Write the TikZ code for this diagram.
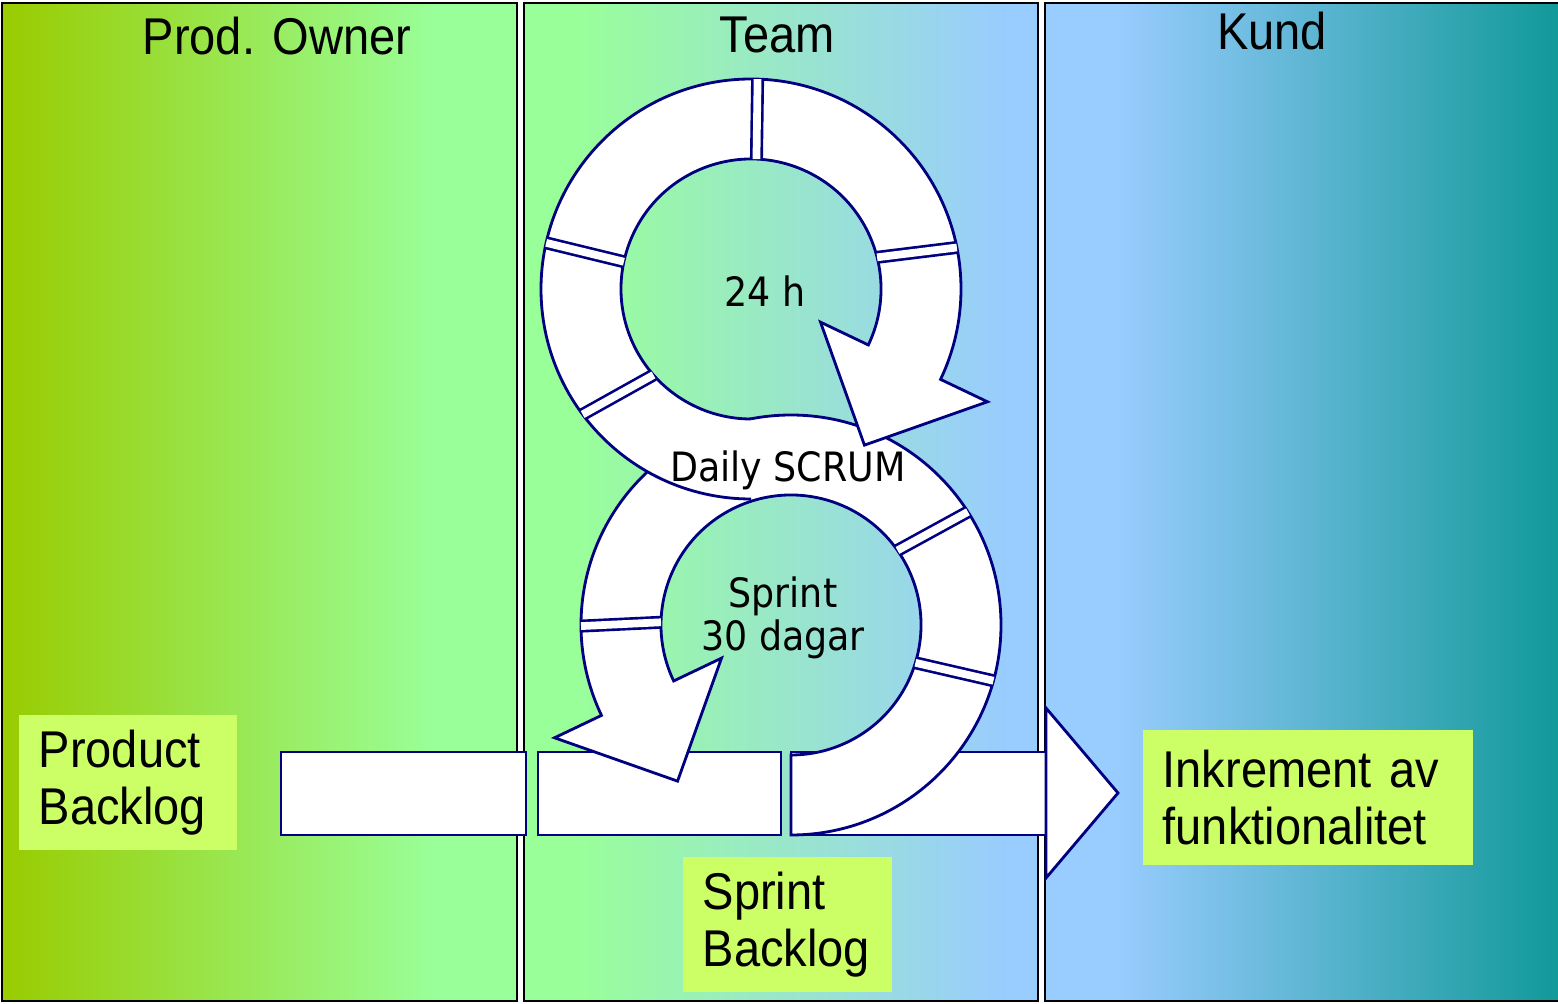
\documentclass[tikz,border=0pt]{standalone}
\usepackage{fontspec}
\newfontfamily\boxfont[FakeStretch=0.91]{Liberation Sans}
\newfontfamily\ringfont{DejaVu Sans Condensed}
\usepackage{tikz}

\definecolor{pogreen}{HTML}{99CC00}
\definecolor{lgreen}{HTML}{99FF99}
\definecolor{lblue}{HTML}{99CCFF}
\definecolor{kundteal}{HTML}{119999}
\definecolor{notegreen}{HTML}{CCFF66}
\definecolor{scrumnavy}{HTML}{000080}

\pgfdeclarehorizontalshading{poshade}{100bp}{color(0bp)=(pogreen); color(25bp)=(pogreen); color(67bp)=(lgreen); color(100bp)=(lgreen)}
\pgfdeclarehorizontalshading{teamshade}{100bp}{color(0bp)=(lgreen); color(30bp)=(lgreen); color(72bp)=(lblue); color(100bp)=(lblue)}
\pgfdeclarehorizontalshading{kundshade}{100bp}{color(0bp)=(lblue); color(32bp)=(lblue); color(75bp)=(kundteal); color(100bp)=(kundteal)}

\tikzset{
  panel/.style={draw=black, line width=0.6pt},
  headlabel/.style={anchor=base, font=\boxfont\fontsize{14.7}{16.2}\selectfont},
  bar/.style={draw=scrumnavy, fill=white, line width=0.8pt, minimum height=0.83cm, inner sep=0pt},
  band/.style={draw=scrumnavy, fill=white, line width=0.8pt},
  ringtick/.style={draw=scrumnavy, line width=0.75pt, double=white, double distance=2.2pt},
  ringlabel/.style={font=\ringfont\fontsize{11.5}{12.2}\selectfont, align=center},
  notebox/.style={fill=notegreen, anchor=north west, align=left, minimum height=1.35cm, inner xsep=0.2cm, font=\boxfont\fontsize{14.7}{16.2}\selectfont}
}

\begin{document}
\begin{tikzpicture}[x=0.01cm, y=0.01cm]
\useasboundingbox (0,0) rectangle (1558,1003);

% lanes
\shadedraw[panel, shading=poshade] (2,2) rectangle (517,1000);
\shadedraw[panel, shading=teamshade] (524,2) rectangle (1038,1000);
\shadedraw[panel, shading=kundshade] (1045,2) rectangle (1559,1000);

\node[headlabel] (pohead) at (277,948) {Prod. Owner};
\node[headlabel] (teamhead) at (777,950) {Team};
\node[headlabel] (kundhead) at (1272,953) {Kund};

% backlog bars
\node[bar, minimum width=2.45cm] (pbbar) at (403.5,209.5) {};
\node[bar, minimum width=2.43cm] (sbbar) at (659.5,209.5) {};
\node[bar, minimum width=2.55cm] (incbar) at (918.5,209.5) {};
\filldraw[band] (1046,295) -- (1118,210) -- (1046,125) -- cycle;

% sprint ring
\begin{scope}[shift={(791,378)}]
  \filldraw[band] (-90:210) arc[start angle=-90, end angle=205.5, radius=210]
    -- (205.5:262) -- (234:193) -- (205.5:77) -- (205.5:130)
    arc[start angle=205.5, end angle=-90, radius=130] -- cycle;
  \foreach \ao/\ai in {32.6/35, -15.4/-16.9, 180.3/178.8}
    \draw[ringtick] (\ai:130) -- (\ao:210);
\end{scope}

% daily ring
\begin{scope}[shift={(751,714)}]
  \filldraw[band] (-90:210) arc[start angle=270, end angle=-25.5, radius=210]
    -- (-25.5:262) -- (-54:193) -- (-25.5:77) -- (-25.5:130)
    arc[start angle=-25.5, end angle=270, radius=130];
  \foreach \ao/\ai in {88.2/87.6, 167.3/167.9, 11.4/14.1, 216.7/221.4}
    \draw[ringtick] (\ai:130) -- (\ao:210);
\end{scope}

\node[ringlabel, anchor=base] (dayclock) at (765,696) {24 h};
\node[ringlabel, anchor=base] (dailyscrum) at (788,521) {Daily SCRUM};
\node[ringlabel] (sprintclock) at (783,385) {Sprint\\30 dagar};

% notes
\node[notebox, text width=1.78cm] (pbnote) at (18,289) {Product\\Backlog};
\node[notebox, text width=2.90cm] (incnote) at (1142,274) {Inkrement av\\funktionalitet};
\node[notebox, text width=1.69cm] (sbnote) at (682,147) {Sprint\\Backlog};
\end{tikzpicture}
\end{document}
